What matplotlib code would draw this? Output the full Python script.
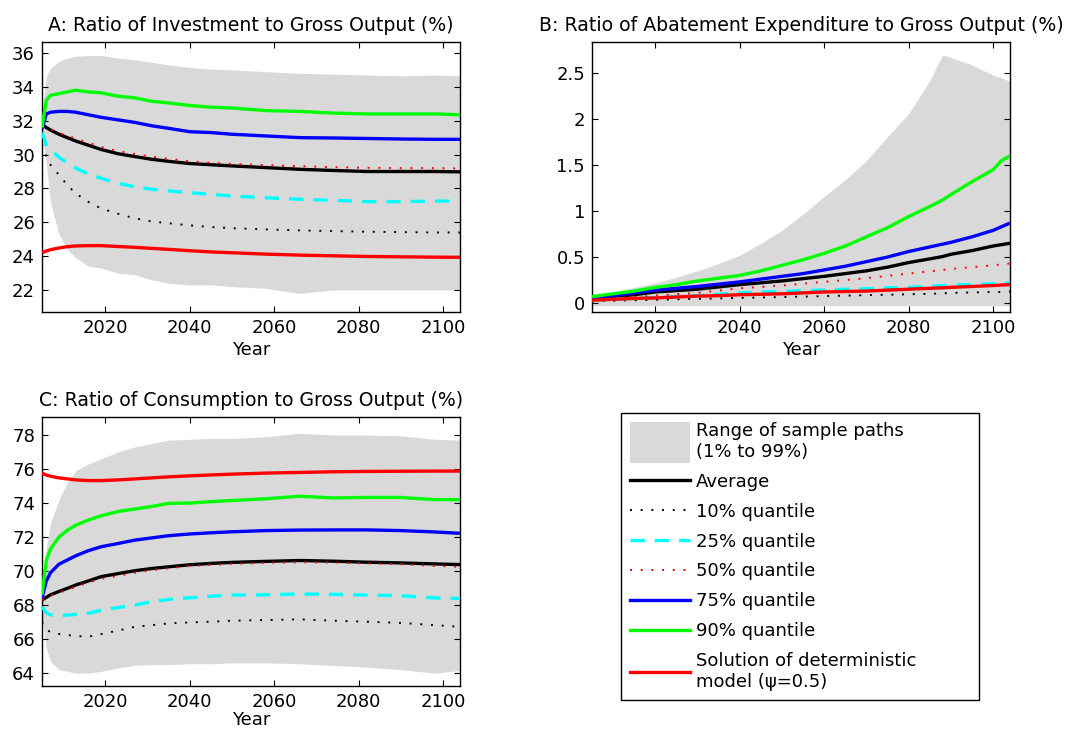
import matplotlib
matplotlib.use("Agg")
import matplotlib.pyplot as plt
import matplotlib.patches as mpatches
from matplotlib.lines import Line2D
from matplotlib.legend_handler import HandlerPatch
from matplotlib.ticker import FormatStrFormatter, MultipleLocator

plt.rcParams['font.family'] = ['DejaVu Sans']

# ---------------- data ----------------
years_ac = [2005, 2006, 2007, 2009, 2011, 2013, 2016, 2019, 2023, 2027, 2031, 2035,
            2040, 2045, 2050, 2058, 2066, 2074, 2082, 2090, 2098, 2104]

# Panel A: investment / gross output (%)
a_band_hi = [32.5, 34.6, 35.1, 35.5, 35.7, 35.8, 35.85, 35.85, 35.7, 35.6, 35.45, 35.3,
             35.15, 35.05, 35.0, 34.9, 34.8, 34.75, 34.7, 34.65, 34.7, 34.65]
a_band_lo = [31.2, 29.5, 27.2, 25.3, 24.4, 23.9, 23.4, 23.3, 23.0, 22.9, 22.6, 22.4,
             22.3, 22.3, 22.2, 22.1, 21.8, 22.0, 22.0, 22.0, 22.0, 22.0]
a_avg = [31.8, 31.6, 31.45, 31.2, 31.0, 30.8, 30.55, 30.3, 30.05, 29.88, 29.72, 29.6,
         29.47, 29.4, 29.33, 29.23, 29.13, 29.06, 29.0, 29.0, 29.0, 28.98]
a_q10 = [30.6, 29.9, 29.4, 28.8, 28.2, 27.7, 27.2, 26.82, 26.5, 26.23, 26.05, 25.94,
         25.82, 25.72, 25.65, 25.58, 25.52, 25.48, 25.44, 25.42, 25.4, 25.4]
a_q25 = [31.3, 30.6, 30.3, 29.85, 29.5, 29.2, 28.85, 28.6, 28.3, 28.1, 27.95, 27.85,
         27.75, 27.65, 27.55, 27.45, 27.36, 27.3, 27.22, 27.22, 27.25, 27.25]
a_q50 = [31.8, 31.65, 31.5, 31.3, 31.1, 30.95, 30.7, 30.45, 30.2, 30.03, 29.88, 29.75,
         29.6, 29.52, 29.45, 29.38, 29.32, 29.25, 29.22, 29.2, 29.2, 29.18]
a_q75 = [31.5, 32.4, 32.5, 32.55, 32.55, 32.5, 32.35, 32.2, 32.05, 31.9, 31.7, 31.55,
         31.35, 31.3, 31.2, 31.1, 31.0, 30.98, 30.95, 30.92, 30.9, 30.9]
a_q90 = [31.6, 33.2, 33.5, 33.6, 33.7, 33.8, 33.7, 33.65, 33.45, 33.35, 33.15, 33.05,
         32.9, 32.8, 32.75, 32.6, 32.55, 32.45, 32.4, 32.4, 32.4, 32.35]
a_det = [24.2, 24.3, 24.38, 24.48, 24.56, 24.6, 24.62, 24.62, 24.57, 24.52, 24.46, 24.4,
         24.32, 24.25, 24.2, 24.12, 24.06, 24.02, 23.98, 23.96, 23.94, 23.93]

# Panel C: consumption / gross output (%)
c_band_hi = [69.5, 71.3, 72.8, 74.2, 75.2, 75.9, 76.3, 76.6, 77.0, 77.3, 77.5, 77.7,
             77.75, 77.8, 77.8, 77.9, 78.1, 78.0, 78.0, 77.95, 77.75, 77.7]
c_band_lo = [67.3, 65.5, 64.7, 64.2, 64.1, 64.0, 64.0, 64.1, 64.3, 64.45, 64.5, 64.5,
             64.55, 64.55, 64.6, 64.6, 64.55, 64.45, 64.35, 64.2, 64.0, 64.15]
c_avg = [68.3, 68.45, 68.6, 68.8, 68.98, 69.18, 69.42, 69.67, 69.85, 70.02, 70.15, 70.25,
         70.37, 70.45, 70.51, 70.57, 70.62, 70.58, 70.52, 70.48, 70.42, 70.38]
c_q10 = [67.0, 66.6, 66.4, 66.3, 66.24, 66.18, 66.14, 66.29, 66.5, 66.72, 66.82, 66.92,
         66.98, 67.02, 67.08, 67.12, 67.16, 67.08, 67.02, 66.95, 66.82, 66.72]
c_q25 = [67.9, 67.55, 67.42, 67.4, 67.41, 67.45, 67.52, 67.7, 67.85, 68.0, 68.2, 68.33,
         68.43, 68.52, 68.59, 68.6, 68.65, 68.63, 68.59, 68.55, 68.42, 68.39]
c_q50 = [68.3, 68.42, 68.55, 68.72, 68.9, 69.08, 69.32, 69.55, 69.72, 69.9, 70.05, 70.17,
         70.3, 70.36, 70.42, 70.48, 70.52, 70.5, 70.45, 70.4, 70.3, 70.25]
c_q75 = [68.4, 69.4, 69.9, 70.4, 70.65, 70.9, 71.2, 71.43, 71.62, 71.82, 71.95, 72.08,
         72.18, 72.25, 72.31, 72.38, 72.41, 72.42, 72.42, 72.38, 72.3, 72.22]
c_q90 = [68.6, 70.6, 71.3, 72.0, 72.4, 72.7, 73.0, 73.25, 73.5, 73.65, 73.8, 73.98,
         74.0, 74.08, 74.15, 74.25, 74.4, 74.3, 74.33, 74.33, 74.2, 74.2]
c_det = [75.75, 75.65, 75.58, 75.48, 75.42, 75.36, 75.32, 75.32, 75.36, 75.42, 75.48, 75.54,
         75.6, 75.65, 75.7, 75.76, 75.8, 75.84, 75.86, 75.87, 75.88, 75.88]

# Panel B: abatement expenditure / gross output (%)
years_b = [2005, 2010, 2015, 2020, 2025, 2030, 2035, 2040, 2045, 2050, 2055, 2060,
           2065, 2070, 2075, 2080, 2085, 2088, 2090, 2095, 2100, 2102, 2104]
b_band_hi = [0.07, 0.12, 0.17, 0.22, 0.28, 0.35, 0.43, 0.52, 0.65, 0.79, 0.97, 1.16,
             1.34, 1.55, 1.81, 2.06, 2.42, 2.70, 2.67, 2.59, 2.48, 2.45, 2.41]
b_band_lo = [-0.03] * len(years_b)
b_avg = [0.04, 0.07, 0.09, 0.12, 0.135, 0.15, 0.175, 0.20, 0.22, 0.24, 0.265, 0.29,
         0.32, 0.35, 0.39, 0.44, 0.48, 0.505, 0.53, 0.57, 0.62, 0.635, 0.65]
b_q10 = [0.02, 0.025, 0.03, 0.035, 0.04, 0.045, 0.05, 0.055, 0.06, 0.065, 0.07, 0.075,
         0.08, 0.085, 0.09, 0.095, 0.10, 0.105, 0.11, 0.115, 0.12, 0.12, 0.125]
b_q25 = [0.03, 0.04, 0.05, 0.06, 0.07, 0.08, 0.095, 0.11, 0.12, 0.125, 0.135, 0.14,
         0.15, 0.155, 0.165, 0.17, 0.18, 0.19, 0.195, 0.20, 0.21, 0.215, 0.22]
b_q50 = [0.03, 0.05, 0.065, 0.08, 0.095, 0.11, 0.135, 0.16, 0.175, 0.19, 0.21, 0.23,
         0.25, 0.27, 0.295, 0.32, 0.345, 0.36, 0.37, 0.39, 0.41, 0.42, 0.43]
b_q75 = [0.05, 0.08, 0.11, 0.14, 0.16, 0.18, 0.205, 0.23, 0.26, 0.29, 0.32, 0.36,
         0.40, 0.45, 0.50, 0.56, 0.61, 0.64, 0.66, 0.72, 0.79, 0.83, 0.87]
b_q90 = [0.07, 0.10, 0.13, 0.17, 0.20, 0.24, 0.27, 0.30, 0.35, 0.41, 0.47, 0.54,
         0.62, 0.72, 0.82, 0.94, 1.05, 1.12, 1.18, 1.32, 1.45, 1.55, 1.60]
b_det = [0.03, 0.04, 0.05, 0.055, 0.065, 0.075, 0.08, 0.09, 0.095, 0.10, 0.11, 0.12,
         0.125, 0.13, 0.14, 0.15, 0.16, 0.165, 0.17, 0.18, 0.19, 0.195, 0.20]

titles = ["A: Ratio of Investment to Gross Output (%)",
          "B: Ratio of Abatement Expenditure to Gross Output (%)",
          "C: Ratio of Consumption to Gross Output (%)"]
band_label = "Range of sample paths\n(1% to 99%)"
series_labels = ["Average", "10% quantile", "25% quantile", "50% quantile",
                 "75% quantile", "90% quantile",
                 "Solution of deterministic\nmodel (\u03c8=0.5)"]
x_ticks = [2020, 2040, 2060, 2080, 2100]

# ---------------- styles ----------------
GRAY = '#d9d9d9'
FS = 13
FS_TITLE = 13.6
styles = [
    dict(color='black', lw=2.4, ls='-'),
    dict(color='black', lw=1.4, ls=(0, (1, 4.5))),
    dict(color='#00ffff', lw=2.4, ls=(0, (4.3, 3.0))),
    dict(color='red', lw=1.4, ls=(0, (1, 4.5))),
    dict(color='blue', lw=2.4, ls='-'),
    dict(color='#00ff00', lw=2.4, ls='-'),
    dict(color='red', lw=2.4, ls='-'),
]

W, H = 1066, 730
fig = plt.figure(figsize=(W / 100, H / 100), dpi=100)
axA = fig.add_axes([42 / W, 1 - 312 / H, 418 / W, 270 / H])
axB = fig.add_axes([592 / W, 1 - 312 / H, 418 / W, 270 / H])
axC = fig.add_axes([42 / W, 1 - 686 / H, 418 / W, 269 / H])

panels = [
    (axA, years_ac, a_band_lo, a_band_hi, [a_avg, a_q10, a_q25, a_q50, a_q75, a_q90, a_det], (20.7, 36.65), 2, 3),
    (axB, years_b, b_band_lo, b_band_hi, [b_avg, b_q10, b_q25, b_q50, b_q75, b_q90, b_det], (-0.098, 2.84), 0.5, 3),
    (axC, years_ac, c_band_lo, c_band_hi, [c_avg, c_q10, c_q25, c_q50, c_q75, c_q90, c_det], (63.24, 79.06), 2, 0),
]

for (ax, yrs, lo, hi, series, ylim, ystep, lpad), title in zip(panels, titles):
    ax.fill_between(yrs, lo, hi, color=GRAY, lw=0, zorder=1)
    for vals, st in zip(series, styles):
        ax.plot(yrs, vals, color=st['color'], lw=st['lw'], linestyle=st['ls'],
                zorder=3, solid_capstyle='butt')
    ax.set_xlim(2005, 2104)
    ax.set_ylim(*ylim)
    ax.set_xticks(x_ticks)
    ax.yaxis.set_major_locator(MultipleLocator(ystep))
    ax.yaxis.set_major_formatter(FormatStrFormatter('%g'))
    ax.tick_params(direction='in', top=True, right=True, length=4, width=0.8,
                   labelsize=FS, pad=5, colors='black')
    for sp in ax.spines.values():
        sp.set_linewidth(1.0)
    ax.set_xlabel("Year", fontsize=FS, labelpad=lpad)
    ax.set_title(title, fontsize=FS_TITLE, pad=8)

# ---------------- legend ----------------
def tall_rect(legend, orig_handle, xdescent, ydescent, width, height, fontsize):
    hh = 2.27 * fontsize
    cy = -ydescent + height / 2
    return mpatches.Rectangle((-xdescent, cy - hh / 2), width, hh)

band_handle = mpatches.Patch(facecolor=GRAY, edgecolor='none')
line_handles = [Line2D([], [], color=st['color'], lw=st['lw'], linestyle=st['ls'])
                for st in styles]
leg = fig.legend([band_handle] + line_handles, [band_label] + series_labels,
                 loc='upper left',
                 bbox_to_anchor=(621 / W, 1 - 699 / H, 358 / W, 286 / H),
                 mode='expand', borderaxespad=0, fontsize=FS,
                 handlelength=3.32, handletextpad=0.33, labelspacing=0.66,
                 borderpad=0.5, fancybox=False, framealpha=1,
                 handler_map={mpatches.Patch: HandlerPatch(patch_func=tall_rect)})
leg.get_frame().set_edgecolor('black')
leg.get_frame().set_linewidth(1.0)

fig.savefig("out.png", dpi=100)
